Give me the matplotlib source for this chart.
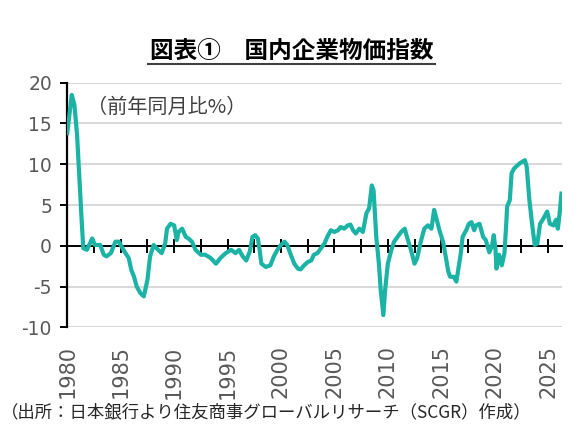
import matplotlib.pyplot as plt
from matplotlib.lines import Line2D

plt.rcParams['font.family'] = ['Noto Sans CJK JP', 'DejaVu Sans']

# months since Jan 1980 and year-on-year change (%)
month_idx = [0, 5, 8, 11, 13, 16, 18, 22, 28, 31, 37, 41, 44, 49, 54, 58, 63, 69, 72, 75,
             78, 82, 86, 90, 93, 97, 102, 106, 110, 112, 116, 120, 123, 125, 129, 133, 136,
             140, 144, 150, 155, 161, 167, 172, 178, 184, 189, 193, 197, 201, 205, 208, 211,
             214, 216, 218, 223, 228, 232, 236, 240, 244, 247, 251, 255, 259, 262, 266, 270,
             274, 277, 281, 285, 289, 292, 296, 300, 304, 307, 311, 315, 318, 321, 324, 328,
             332, 336, 339, 342, 344, 347, 350, 352, 355, 357, 360, 364, 367, 371, 375, 379,
             382, 386, 390, 393, 397, 401, 405, 409, 412, 414, 418, 422, 425, 428, 430, 434,
             437, 439, 442, 444, 448, 451, 454, 457, 459, 463, 467, 470, 474, 477, 479, 481,
             482, 485, 488, 491, 493, 494, 497, 499, 502, 506, 508, 511, 514, 516, 519, 522,
             525, 528, 531, 534, 537, 539, 542, 546, 549, 551, 553, 555]
yoy_pct = [13.8, 18.5, 17.3, 13.6, 9.5, 3.4, -0.3, -0.5, 0.9, 0.1, 0.1, -1.1, -1.3, -0.9, 0.5,
           0.5, -0.5, -1.5, -3.0, -3.8, -5.0, -5.8, -6.2, -4.2, -1.3, 0.1, -0.5, -0.9, 0.3,
           2.1, 2.7, 2.5, 0.7, 1.7, 2.1, 1.1, 0.9, 0.5, -0.5, -1.1, -1.1, -1.5, -2.2, -1.5,
           -0.9, -0.5, -0.9, -0.5, -1.3, -1.8, -0.7, 1.1, 1.3, 0.9, -0.5, -2.2, -2.6, -2.4,
           -1.3, -0.5, 0.1, 0.5, 0.1, -1.1, -2.2, -2.8, -2.9, -2.4, -2.0, -1.8, -1.1, -0.9,
           -0.3, 0.3, 1.1, 1.9, 1.7, 1.9, 2.3, 2.1, 2.5, 2.6, 1.9, 1.5, 2.1, 1.7, 4.0, 4.6,
           7.4, 6.8, 1.1, -2.2, -5.4, -8.5, -5.4, -2.2, -0.5, 0.5, 1.1, 1.7, 2.1, 0.9, -0.5,
           -2.2, -1.5, 0.5, 2.1, 2.5, 2.1, 4.4, 3.6, 1.9, 0.5, -1.3, -3.2, -3.8, -3.8, -4.4,
           -3.0, -0.9, 1.1, 1.9, 2.7, 2.9, 1.9, 2.5, 2.7, 1.1, 0.7, -0.8, 0.0, 1.3, -0.5,
           -2.8, -1.1, -2.4, -0.9, 2.7, 4.8, 5.6, 8.9, 9.5, 9.9, 10.1, 10.3, 10.5, 9.7, 5.6,
           2.7, 0.1, 0.3, 2.7, 3.2, 3.8, 4.2, 2.7, 2.5, 3.2, 2.1, 4.0, 6.4]

years = [1980 + m / 12 for m in month_idx]

label_years = [1980, 1985, 1990, 1995, 2000, 2005, 2010, 2015, 2020, 2025]
cross_ticks = [1980 + 2.5 * k for k in range(1, 19)]
yticks = [-10, -5, 0, 5, 10, 15, 20]

fig = plt.figure(figsize=(5.86, 4.38), dpi=100)
ax = fig.add_axes([0.1148, 0.2527, 0.8442, 0.5585])

for v in yticks:
    if v != 0:
        ax.axhline(v, color='#d9d9d9', lw=1.5, zorder=0)

ax.plot(years, yoy_pct, color='#1bb3a5', lw=3.0, solid_joinstyle='round', zorder=3)

ax.set_xlim(1980, 2026.3)
ax.set_ylim(-10, 20)

for s in ['top', 'right', 'bottom']:
    ax.spines[s].set_visible(False)
ax.spines['left'].set_linewidth(1.6)
ax.spines['left'].set_color('black')

ax.set_yticks(yticks)
ax.set_yticklabels([str(v) for v in yticks], family='DejaVu Sans')
ax.tick_params(axis='y', direction='out', length=5, width=1.4, pad=6,
               labelsize=13.5, labelcolor='#595959')

ax.set_xticks(label_years)
ax.set_xticklabels([str(y) for y in label_years], rotation=90, family='DejaVu Sans')
ax.tick_params(axis='x', length=0, pad=13, labelsize=15, labelcolor='#595959')

# zero line with cross ticks
zero_ax = ax.secondary_xaxis(1 / 3)
zero_ax.spines['bottom'].set_linewidth(1.4)
zero_ax.set_xticks(cross_ticks)
zero_ax.set_xticklabels([])
zero_ax.tick_params(direction='inout', length=10, width=1.4, color='black')

fig.text(0.4974, 0.883, '図表①　国内企業物価指数', ha='center', va='center',
         fontsize=17, fontweight='bold', color='black')
fig.add_artist(Line2D([148 / 586, 435 / 586], [1 - 63.5 / 438, 1 - 63.5 / 438],
                      transform=fig.transFigure, color='#404040', lw=1.5))

fig.text(0.148, 0.754, '（前年同月比%）', ha='left', va='center',
         fontsize=14.5, color='#404040')

fig.text(0.002, 0.058, '（出所：日本銀行より住友商事グローバルリサーチ（SCGR）作成）',
         ha='left', va='center', fontsize=12.5, color='#262626')

plt.savefig('out.png', dpi=100)
